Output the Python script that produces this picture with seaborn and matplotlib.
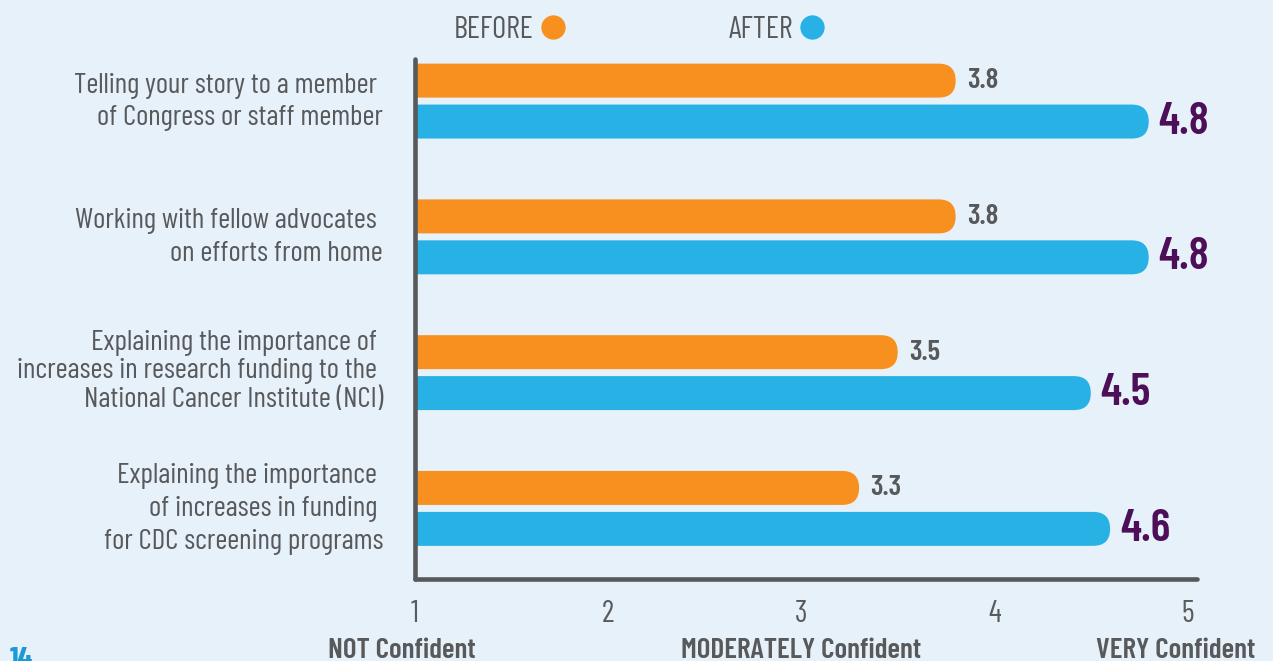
import matplotlib
matplotlib.use("Agg")
import matplotlib.pyplot as plt
from matplotlib.patches import FancyBboxPatch
from matplotlib.lines import Line2D
from matplotlib import font_manager as fm
import matplotlib.transforms as mtransforms
import seaborn as sns
import pandas as pd

# ---- data ----
items = [
    "Telling your story to a member \nof Congress or staff member",
    "Working with fellow advocates \non efforts from home",
    "Explaining the importance of \nincreases in research funding to the \nNational Cancer Institute (NCI)",
    "Explaining the importance \nof increases in funding \nfor CDC screening programs",
]
before = [3.8, 3.8, 3.5, 3.3]
after = [4.8, 4.8, 4.5, 4.6]
periods = ["BEFORE", "AFTER"]
ticks = [1, 2, 3, 4, 5]
scale_labels = ["NOT Confident", "MODERATELY Confident", "VERY Confident"]

# ---- style ----
BG = "#e6f1fa"
ORANGE = "#f7901e"
BLUE = "#27b1e5"
GRAY = "#58595b"
DGRAY = "#5a5b5d"
PURPLE = "#4d0f57"

sns.set_theme(style="white")
installed = {f.name for f in fm.fontManager.ttflist}
FONT = next((f for f in ["Barlow Condensed", "Roboto Condensed", "Archivo Narrow"]
             if f in installed), "DejaVu Sans")
plt.rcParams["font.family"] = [FONT, "DejaVu Sans"]

df = pd.DataFrame({
    "item": items * 2,
    "value": before + after,
    "period": [periods[0]] * len(items) + [periods[1]] * len(items),
})

fig = plt.figure(figsize=(12.73, 6.61), dpi=100, facecolor=BG)
ax = fig.add_axes([415 / 1273, 82 / 661, (1197 - 415) / 1273, (579 - 59) / 661])
ax.set_facecolor(BG)

sns.barplot(data=df, x="value", y="item", hue="period", orient="h",
            palette=[ORANGE, BLUE], width=0.603, gap=0.17, ax=ax,
            legend=False, errorbar=None, saturation=1)

ax.set_xlim(1, 5.05)
ax.set_ylim(3.52, -0.31)

# rounded bar ends
fig.canvas.draw()
x_px = ax.transData.transform((2, 0))[0] - ax.transData.transform((1, 0))[0]
y_px = abs(ax.transData.transform((0, 1))[1] - ax.transData.transform((0, 0))[1])
bars = list(ax.patches)
for p in bars:
    x, y = p.get_x(), p.get_y()
    w, h = p.get_width(), p.get_height()
    col = p.get_facecolor()
    h_px = abs(h) * y_px
    r = (h_px / 2) / x_px * 0.999
    aspect = x_px / y_px
    fb = FancyBboxPatch((x, min(y, y + h)), w, abs(h),
                        boxstyle=f"round,pad=0,rounding_size={r}",
                        mutation_aspect=aspect, facecolor=col, edgecolor="none",
                        zorder=2)
    p.remove()
    ax.add_patch(fb)

# value labels
n = len(items)
for i, b in enumerate(bars):
    val = b.get_width()
    yc = b.get_y() + b.get_height() / 2
    if i < n:
        ax.annotate(f"{val:.1f}", (val, yc), xytext=(8, 0), textcoords="offset points",
                    va="center", ha="left", fontsize=21, fontweight="semibold", color=GRAY)
    else:
        ax.annotate(f"{val:.1f}", (val, yc), xytext=(7, 0), textcoords="offset points",
                    va="center", ha="left", fontsize=33, fontweight="semibold", color=PURPLE)

# axes styling
for s in ["top", "right"]:
    ax.spines[s].set_visible(False)
for s in ["left", "bottom"]:
    ax.spines[s].set_color(GRAY)
    ax.spines[s].set_linewidth(3.3)
    ax.spines[s].set_zorder(5)
    ax.spines[s].set_capstyle("round")

ax.set_xticks(ticks)
ax.set_xticklabels([str(t) for t in ticks])
ax.tick_params(axis="x", length=0, pad=15, labelsize=22, labelcolor=DGRAY)
ax.tick_params(axis="y", length=0, pad=23, labelsize=21, labelcolor=GRAY)
for lab in ax.get_xticklabels():
    lab.set_fontweight("normal")
shift_up = mtransforms.ScaledTranslation(0, 4 / 72, fig.dpi_scale_trans)
for lab in ax.get_yticklabels():
    txt = lab.get_text()
    lab.set_linespacing(1.13 if "research" in txt else 1.34)
    lab.set_transform(lab.get_transform() + shift_up)
ax.set_xlabel("")
ax.set_ylabel("")

# scale labels under the ticks
label_x = [0.93, 3.0, 4.94]
for lx, txt in zip(label_x, scale_labels):
    ax.text(lx, -0.137, txt, transform=ax.get_xaxis_transform(), ha="center", va="center",
            fontsize=21, fontweight="semibold", color=GRAY)

# legend
handles = [Line2D([], [], marker="o", linestyle="none", markersize=17.5,
                  markerfacecolor=c, markeredgecolor="none") for c in (ORANGE, BLUE)]
leg = fig.legend(handles, periods, loc="center", bbox_to_anchor=(0.503, 1 - 30 / 661),
                 ncol=2, frameon=False, markerfirst=False, fontsize=22,
                 handlelength=0.95, handletextpad=0.15, columnspacing=5.3)
for t in leg.get_texts():
    t.set_color(GRAY)

# page number (partially cut off)
fig.text(10 / 1273, 14 / 661, "14", ha="left", va="top", fontsize=22,
         fontweight="bold", color="#1b9ad6")

fig.savefig("out.png", dpi=100, facecolor=BG)
